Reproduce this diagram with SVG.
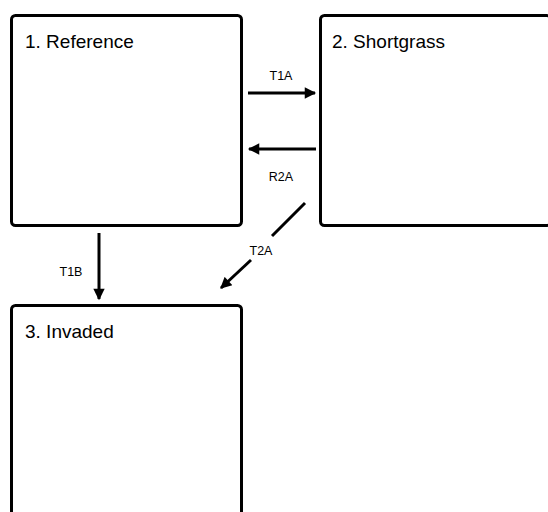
<svg xmlns="http://www.w3.org/2000/svg" width="548" height="512" viewBox="0 0 548 512">
<style>
.box{fill:#fff;stroke:#000;stroke-width:3}
.title{font-family:"Liberation Sans",Arial,sans-serif;font-size:19px;fill:#000}
.lbl{font-family:"Liberation Sans",Arial,sans-serif;font-size:12.5px;fill:#000}
.conn{stroke:#000;stroke-width:3;fill:none}
</style>
<defs>
<marker id="ah" viewBox="0 0 10 10" refX="9" refY="5" markerWidth="4.2" markerHeight="3.8" orient="auto" markerUnits="strokeWidth">
<path d="M0,0 L10,5 L0,10 z" fill="#000"/>
</marker>
</defs>
<rect width="548" height="512" fill="#fff"/>
<g id="node1">
<rect class="box" x="11.5" y="15.5" width="230" height="210" rx="4"/>
<text class="title" x="25" y="48">1. Reference</text>
</g>
<g id="node2">
<rect class="box" x="320.5" y="15.5" width="230" height="210" rx="4"/>
<text class="title" x="332" y="48">2. Shortgrass</text>
</g>
<g id="node3">
<rect class="box" x="11.5" y="305.5" width="230" height="230" rx="4"/>
<text class="title" x="25" y="338">3. Invaded</text>
</g>
<g id="connectors">
<line class="conn" x1="248" y1="93" x2="315" y2="93" marker-end="url(#ah)"/>
<text class="lbl" x="281" y="80" text-anchor="middle">T1A</text>
<line class="conn" x1="316" y1="149" x2="249" y2="149" marker-end="url(#ah)"/>
<text class="lbl" x="281" y="181" text-anchor="middle">R2A</text>
<line class="conn" x1="99" y1="233" x2="99" y2="299" marker-end="url(#ah)"/>
<text class="lbl" x="71" y="276" text-anchor="middle">T1B</text>
<line class="conn" x1="305" y1="203" x2="272" y2="236"/>
<line class="conn" x1="251" y1="260" x2="221" y2="288" marker-end="url(#ah)"/>
<text class="lbl" x="261" y="255" text-anchor="middle">T2A</text>
</g>
</svg>
